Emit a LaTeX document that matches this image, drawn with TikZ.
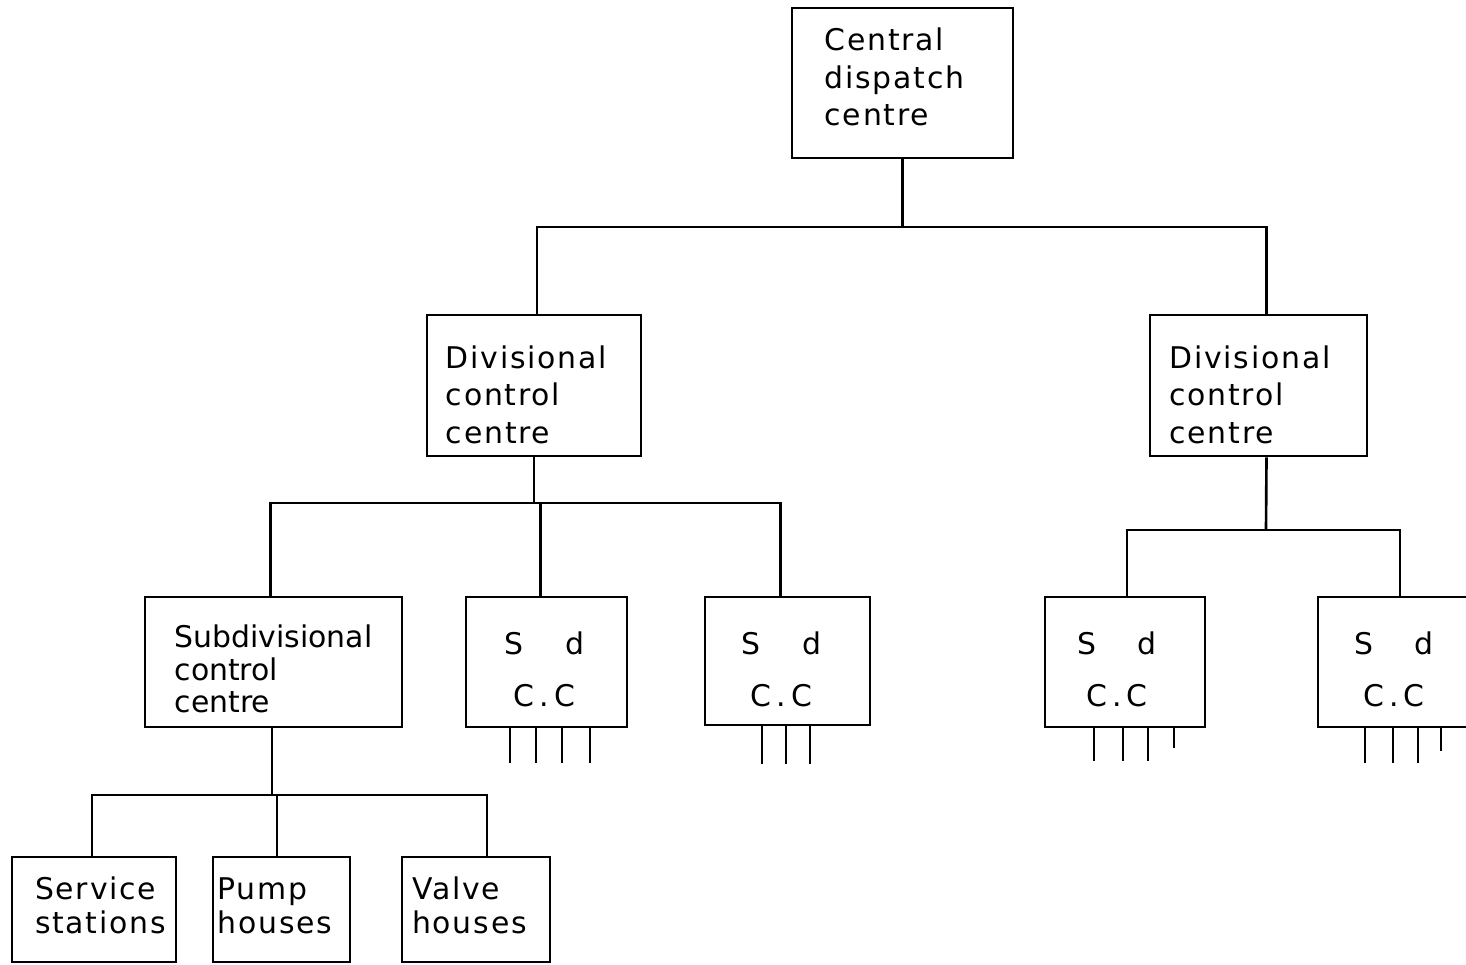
\documentclass[tikz,border=0pt]{standalone}
\usepackage{fontspec}
\setmainfont{DejaVu Sans}
\newfontfamily\plotfont[LetterSpace=6]{DejaVu Sans}
\begin{document}
\begin{tikzpicture}[
  box/.style={draw, line width=0.75pt, rectangle, inner sep=0pt},
  wire/.style={line width=0.75pt},
  txt/.style={inner sep=0pt, align=left},
  lbl/.style={txt, font=\plotfont\fontsize{8.5}{10.7}\selectfont},
  lblsub/.style={txt, font=\fontsize{8.5}{9.3}\selectfont},
  lblleaf/.style={txt, font=\plotfont\fontsize{8.5}{9.7}\selectfont},
  lblsd/.style={txt, font=\plotfont\fontsize{8.5}{14.8}\selectfont, align=center}
]
\useasboundingbox (0,0) rectangle (14.66,-9.65);
% boxes
\node[box, minimum width=2.21cm, minimum height=1.50cm] (cdc) at (9.025,-0.83) {};
\node[box, minimum width=2.14cm, minimum height=1.41cm] (divL) at (5.34,-3.855) {};
\node[box, minimum width=2.17cm, minimum height=1.41cm] (divR) at (12.585,-3.855) {};
\node[box, minimum width=2.57cm, minimum height=1.30cm] (sub) at (2.735,-6.62) {};
\node[box, minimum width=1.61cm, minimum height=1.30cm] (sd1) at (5.465,-6.62) {};
\node[box, minimum width=1.65cm, minimum height=1.28cm] (sd2) at (7.875,-6.61) {};
\node[box, minimum width=1.60cm, minimum height=1.30cm] (sd3) at (11.25,-6.62) {};
\node[box, minimum width=1.52cm, minimum height=1.30cm] (sd4) at (13.94,-6.62) {};
\node[box, minimum width=1.64cm, minimum height=1.05cm] (svc) at (0.94,-9.095) {};
\node[box, minimum width=1.37cm, minimum height=1.05cm] (pump) at (2.815,-9.095) {};
\node[box, minimum width=1.48cm, minimum height=1.05cm] (valve) at (4.76,-9.095) {};
% texts
\node[lbl] (tcdc) at ([xshift=-0.08cm, yshift=0.06cm]cdc.center) {Central\\ dispatch\\ centre};
\node[lbl] (tdivL) at ([xshift=-0.075cm, yshift=-0.09cm]divL.center) {Divisional\\control\\centre};
\node[lbl] (tdivR) at ([xshift=-0.085cm, yshift=-0.09cm]divR.center) {Divisional\\control\\centre};
\node[lblsub] (tsub) at ([xshift=0.0cm, yshift=-0.07cm]sub.center) {Subdivisional\\control\\centre};
\node[lblsd] (tsd1) at ([xshift=-0.02cm, yshift=-0.07cm]sd1.center) {S\hspace{1.4em}d\\C\,.\,C};
\node[lblsd] (tsd2) at ([xshift=-0.06cm, yshift=-0.08cm]sd2.center) {S\hspace{1.4em}d\\C\,.\,C};
\node[lblsd] (tsd3) at ([xshift=-0.08cm, yshift=-0.07cm]sd3.center) {S\hspace{1.4em}d\\C\,.\,C};
\node[lblsd] (tsd4) at ([xshift=0.0cm, yshift=-0.07cm]sd4.center) {S\hspace{1.4em}d\\C\,.\,C};
\node[lblleaf] (tsvc) at ([xshift=0.065cm, yshift=0.04cm]svc.center) {Service\\stations};
\node[lblleaf] (tpump) at ([xshift=-0.065cm, yshift=0.04cm]pump.center) {Pump\\houses};
\node[lblleaf] (tvalve) at ([xshift=-0.065cm, yshift=0.04cm]valve.center) {Valve\\houses};
% bar junctions
\coordinate (j1) at (9.0,-2.27);
\coordinate (j2) at (5.30,-5.03);
\coordinate (j3) at (12.66,-5.30);
\coordinate (j4) at (2.72,-7.95);
% connectors
\draw[wire] (cdc.south) -- (cdc.south |- j1);
\draw[wire] ([xshift=0.03cm]divL.north) |- (j1) -| ([xshift=0.08cm]divR.north);
\draw[wire] (divL.south) -- (divL.south |- j2);
\draw[wire] ([xshift=-0.03cm]sub.north) |- (j2) -| ([xshift=-0.07cm]sd2.north);
\draw[wire] ([xshift=-0.06cm]sd1.north) -- ([xshift=-0.06cm]sd1.north |- j2);
\draw[wire] ([xshift=0.08cm]divR.south) -- (j3);
\draw[wire] ([xshift=0.02cm]sd3.north) |- (j3) -| ([xshift=0.06cm]sd4.north);
\draw[wire] ([xshift=-0.015cm]sub.south) -- (j4);
\draw[wire] ([xshift=-0.02cm]svc.north) |- (j4) -| ([xshift=0.11cm]valve.north);
\draw[wire] ([xshift=-0.045cm]pump.north) -- ([xshift=-0.045cm]pump.north |- j4);
% legs
\foreach \dx in {-0.365,-0.105,0.155,0.435} \draw[wire] ([xshift=\dx cm]sd1.south) -- ++(0,-0.35);
\foreach \dx in {-0.255,-0.015,0.225} \draw[wire] ([xshift=\dx cm]sd2.south) -- ++(0,-0.38);
\foreach \dx/\l in {-0.31/0.33,-0.02/0.33,0.23/0.33,0.49/0.2} \draw[wire] ([xshift=\dx cm]sd3.south) -- ++(0,-\l);
\foreach \dx/\l in {-0.29/0.35,-0.01/0.35,0.24/0.35,0.47/0.23} \draw[wire] ([xshift=\dx cm]sd4.south) -- ++(0,-\l);
\end{tikzpicture}
\end{document}
